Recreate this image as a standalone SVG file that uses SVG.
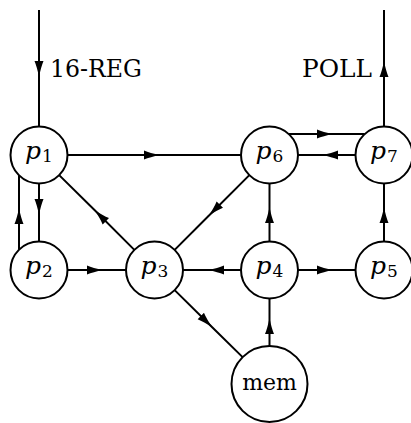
<svg xmlns="http://www.w3.org/2000/svg" width="411" height="423" viewBox="0 0 411 423">
<style>
.node circle{fill:#fff;stroke:#000;stroke-width:2}
.edges path{fill:none;stroke:#000;stroke-width:2;marker-mid:url(#ah)}
text{fill:#000}
.pl{font-size:25px;font-style:italic}
.sb{font-style:normal;font-size:17px}
</style>
<defs>
<marker id="ah" viewBox="0 0 16 10" markerWidth="16" markerHeight="10" refX="16" refY="5" orient="auto" markerUnits="userSpaceOnUse">
<path d="M0,0.5 Q6,3 16,5 Q6,7 0,9.5 Z" fill="#000"/>
</marker>
</defs>
<rect width="411" height="423" fill="#fff"/>
<g class="edges" id="connectors">
<path d="M39,10 L39,77 L39,126.5"/>
<path d="M384,126.5 L384,61 L384,10"/>
<path d="M67.5,155 L160,155 L241,155"/>
<path d="M288.8,134 L333,134 L364.7,134"/>
<path d="M355.5,155 L322,155 L298,155"/>
<path d="M39,183.5 L39,215 L39,241.5"/>
<path d="M19,249.7 L19,208 L19,175.3"/>
<path d="M67.5,270 L103,270 L126,270"/>
<path d="M134.35,249.85 L94.5,210 L59.15,175.15"/>
<path d="M249.35,175.15 L208.5,216 L174.65,249.85"/>
<path d="M241,270 L208,270 L183,270"/>
<path d="M269.5,241.5 L269.5,207 L269.5,183.5"/>
<path d="M298,270 L333,270 L355.5,270"/>
<path d="M384,241.5 L384,207 L384,183.5"/>
<path d="M269.5,346 L269.5,318 L269.5,298.5"/>
<path d="M174.65,290.15 L212.2,327.2 L242.6,357.1"/>
</g>
<g font-family="'DejaVu Serif', serif">
<text x="50" y="77" font-size="24" textLength="92" lengthAdjust="spacingAndGlyphs">16-REG</text>
<text x="302" y="77" font-size="24" textLength="70" lengthAdjust="spacingAndGlyphs">POLL</text>
<g class="node" id="p1"><circle cx="39" cy="155" r="28.5"/><text class="pl" x="39" y="159" text-anchor="middle">p<tspan class="sb" dx="1" dy="3">1</tspan></text></g>
<g class="node" id="p2"><circle cx="39" cy="270" r="28.5"/><text class="pl" x="39" y="274" text-anchor="middle">p<tspan class="sb" dx="1" dy="3">2</tspan></text></g>
<g class="node" id="p3"><circle cx="154.5" cy="270" r="28.5"/><text class="pl" x="154.5" y="274" text-anchor="middle">p<tspan class="sb" dx="1" dy="3">3</tspan></text></g>
<g class="node" id="p4"><circle cx="269.5" cy="270" r="28.5"/><text class="pl" x="269.5" y="274" text-anchor="middle">p<tspan class="sb" dx="1" dy="3">4</tspan></text></g>
<g class="node" id="p5"><circle cx="384" cy="270" r="28.5"/><text class="pl" x="384" y="274" text-anchor="middle">p<tspan class="sb" dx="1" dy="3">5</tspan></text></g>
<g class="node" id="p6"><circle cx="269.5" cy="155" r="28.5"/><text class="pl" x="269.5" y="159" text-anchor="middle">p<tspan class="sb" dx="1" dy="3">6</tspan></text></g>
<g class="node" id="p7"><circle cx="384" cy="155" r="28.5"/><text class="pl" x="384" y="159" text-anchor="middle">p<tspan class="sb" dx="1" dy="3">7</tspan></text></g>
<g class="node" id="mem"><circle cx="269.5" cy="384" r="38"/><text x="269.5" y="390" text-anchor="middle" font-size="22">mem</text></g>
</g>
</svg>
